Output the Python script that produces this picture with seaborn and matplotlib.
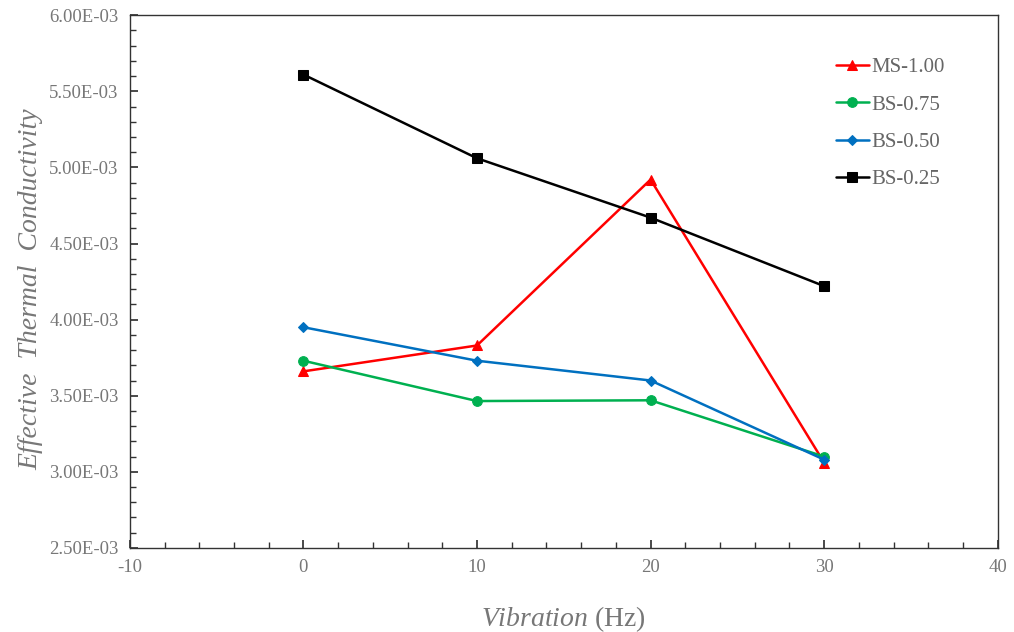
import matplotlib
matplotlib.use("Agg")
import matplotlib.pyplot as plt
import seaborn as sns
import pandas as pd
from matplotlib.ticker import MultipleLocator, FuncFormatter

vibration = [0, 10, 20, 30]
ms_100 = [3.66e-3, 3.83e-3, 4.92e-3, 3.06e-3]
bs_075 = [3.73e-3, 3.465e-3, 3.47e-3, 3.10e-3]
bs_050 = [3.95e-3, 3.73e-3, 3.60e-3, 3.08e-3]
bs_025 = [5.61e-3, 5.06e-3, 4.67e-3, 4.22e-3]
series_names = ["MS-1.00", "BS-0.75", "BS-0.50", "BS-0.25"]

sns.set_theme(style="white")
plt.rcParams['font.family'] = ['Liberation Serif', 'DejaVu Serif']
plt.rcParams['mathtext.fontset'] = 'custom'
plt.rcParams['mathtext.it'] = 'Liberation Serif:italic'
plt.rcParams['mathtext.rm'] = 'Liberation Serif'

fig = plt.figure(figsize=(10.14, 6.32), dpi=100)
ax = fig.add_axes([0.128, 0.133, 0.856, 0.843])

series = [ms_100, bs_075, bs_050, bs_025]
colors = ["#FF0000", "#00B050", "#0070C0", "#000000"]
markers = ["^", "o", "D", "s"]
msizes = [7, 7, 5, 7]
for name, vals, c, m, ms in zip(series_names, series, colors, markers, msizes):
    df = pd.DataFrame({"x": vibration, "y": vals})
    sns.lineplot(data=df, x="x", y="y", ax=ax, color=c, marker=m, markersize=ms,
                 markeredgecolor=c, linewidth=1.8, label=name)

ax.set_xlim(-10, 40)
ax.set_ylim(2.5e-3, 6.0e-3)
ax.xaxis.set_major_locator(MultipleLocator(10))
ax.xaxis.set_minor_locator(MultipleLocator(2))
ax.yaxis.set_major_locator(MultipleLocator(0.5e-3))
ax.yaxis.set_minor_locator(MultipleLocator(0.1e-3))
ax.yaxis.set_major_formatter(FuncFormatter(lambda v, p: "%.2fE-03" % (v * 1e3)))
ax.xaxis.set_major_formatter(FuncFormatter(lambda v, p: "%d" % round(v)))

ax.tick_params(which="both", direction="in", left=True, bottom=True, top=False, right=False,
               colors="#333333", labelcolor="#777777", labelsize=13.5)
ax.tick_params(which="major", length=6, pad=8)
ax.tick_params(which="minor", length=4)
for s in ax.spines.values():
    s.set_color("#333333")
    s.set_linewidth(1.0)

ax.set_xlabel(r"$\mathit{Vibration}$ (Hz)", fontsize=20, color="#777777", labelpad=20)
ax.set_ylabel("Effective  Thermal  Conductivity", fontsize=20, style="italic", color="#777777", labelpad=12)
ax.yaxis.set_label_coords(-0.1, 0.485)

leg = ax.legend(loc="upper right", bbox_to_anchor=(0.96, 0.955), frameon=False,
                fontsize=15, labelspacing=0.85, handlelength=1.6, handletextpad=0.1)
for t in leg.get_texts():
    t.set_color("#666666")

fig.savefig("out.png", dpi=100)
